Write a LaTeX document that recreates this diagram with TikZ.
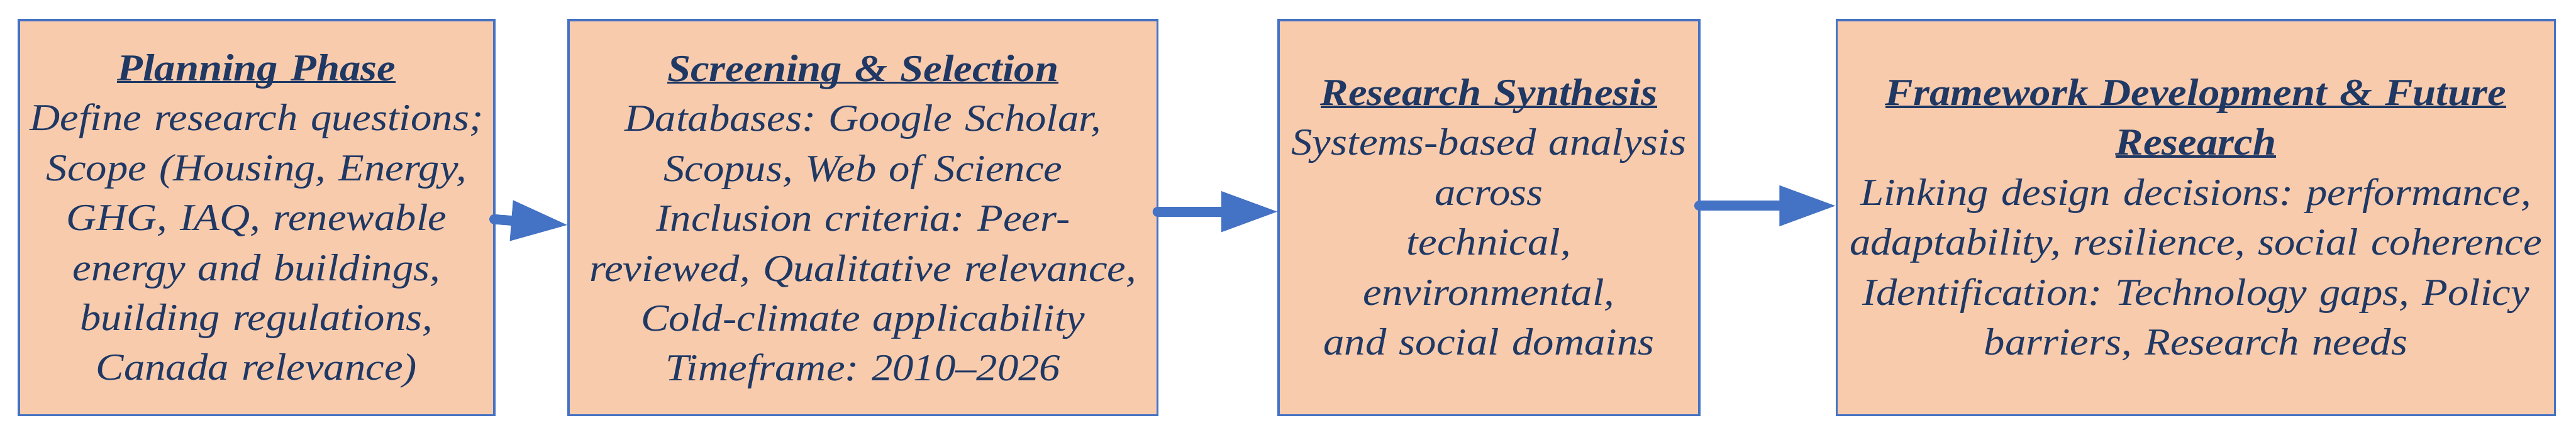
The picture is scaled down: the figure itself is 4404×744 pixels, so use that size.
\documentclass[tikz,border=0pt]{standalone}
\usepackage{fontspec}
\setmainfont{Liberation Serif}[FakeStretch=1.1]
\usetikzlibrary{arrows.meta}
\definecolor{boxfill}{HTML}{F8CBAD}
\definecolor{boxline}{HTML}{4472C4}
\definecolor{txtcol}{HTML}{1F3864}
\frenchspacing
\newsavebox\hdbox
\newcommand{\hdul}[1]{\leavevmode\sbox\hdbox{\bfseries\itshape #1}\rlap{\rule[-1.1pt]{\wd\hdbox}{1pt}}\usebox\hdbox}
\tikzset{
  stagebox/.style={draw=boxline, fill=boxfill, line width=1pt, inner sep=0pt, outer sep=0pt, minimum height=169pt},
  stagetext/.style={text width=340pt, align=center, anchor=base, inner sep=0pt, text=txtcol,
    font=\fontsize{16.3}{21.35}\selectfont\itshape},
  flowarrow/.style={draw=boxline, line width=4.25pt, line cap=round,
    -{Triangle[length=24.5pt, width=16.25pt, fill=boxline]}}
}
\begin{document}
\begin{tikzpicture}[x=0.25pt, y=-0.25pt]
\useasboundingbox (0,0) rectangle (4404,744);
\node[stagebox, minimum width=203.25pt] (b1) at (438.5,372) {};
\node[stagebox, minimum width=251.75pt] (b2) at (1475.5,372) {};
\node[stagebox, minimum width=179.75pt] (b3) at (2545.5,372) {};
\node[stagebox, minimum width=307pt] (b4) at (3754,372) {};

\node[stagetext] (t1) at (438.5,138) {\hdul{Planning Phase}\\
Define research questions;\\
Scope (Housing, Energy,\\
GHG, IAQ, renewable\\
energy and buildings,\\
building regulations,\\
Canada relevance)};

\node[stagetext] (t2) at (1475.5,139) {\hdul{Screening \& Selection}\\
Databases: Google Scholar,\\
Scopus, Web of Science\\
Inclusion criteria: Peer-\\
reviewed, Qualitative relevance,\\
Cold-climate applicability\\
Timeframe: 2010--2026};

\node[stagetext] (t3) at (2545.5,180) {\hdul{Research Synthesis}\\
Systems-based analysis\\
across\\
technical,\\
environmental,\\
and social domains};

\node[stagetext] (t4) at (3754,180) {\hdul{Framework Development \& Future}\\
\hdul{Research}\\
Linking design decisions: performance,\\
adaptability, resilience, social coherence\\
Identification: Technology gaps, Policy\\
barriers, Research needs};

\draw[flowarrow] ([yshift=-0.75pt]b1.east) -- ([yshift=-3.25pt]b2.west);
\draw[flowarrow] ([yshift=2.5pt]b2.east) -- ([yshift=2.5pt]b3.west);
\draw[flowarrow] ([yshift=5pt]b3.east) -- ([yshift=5pt]b4.west);
\end{tikzpicture}
\end{document}
